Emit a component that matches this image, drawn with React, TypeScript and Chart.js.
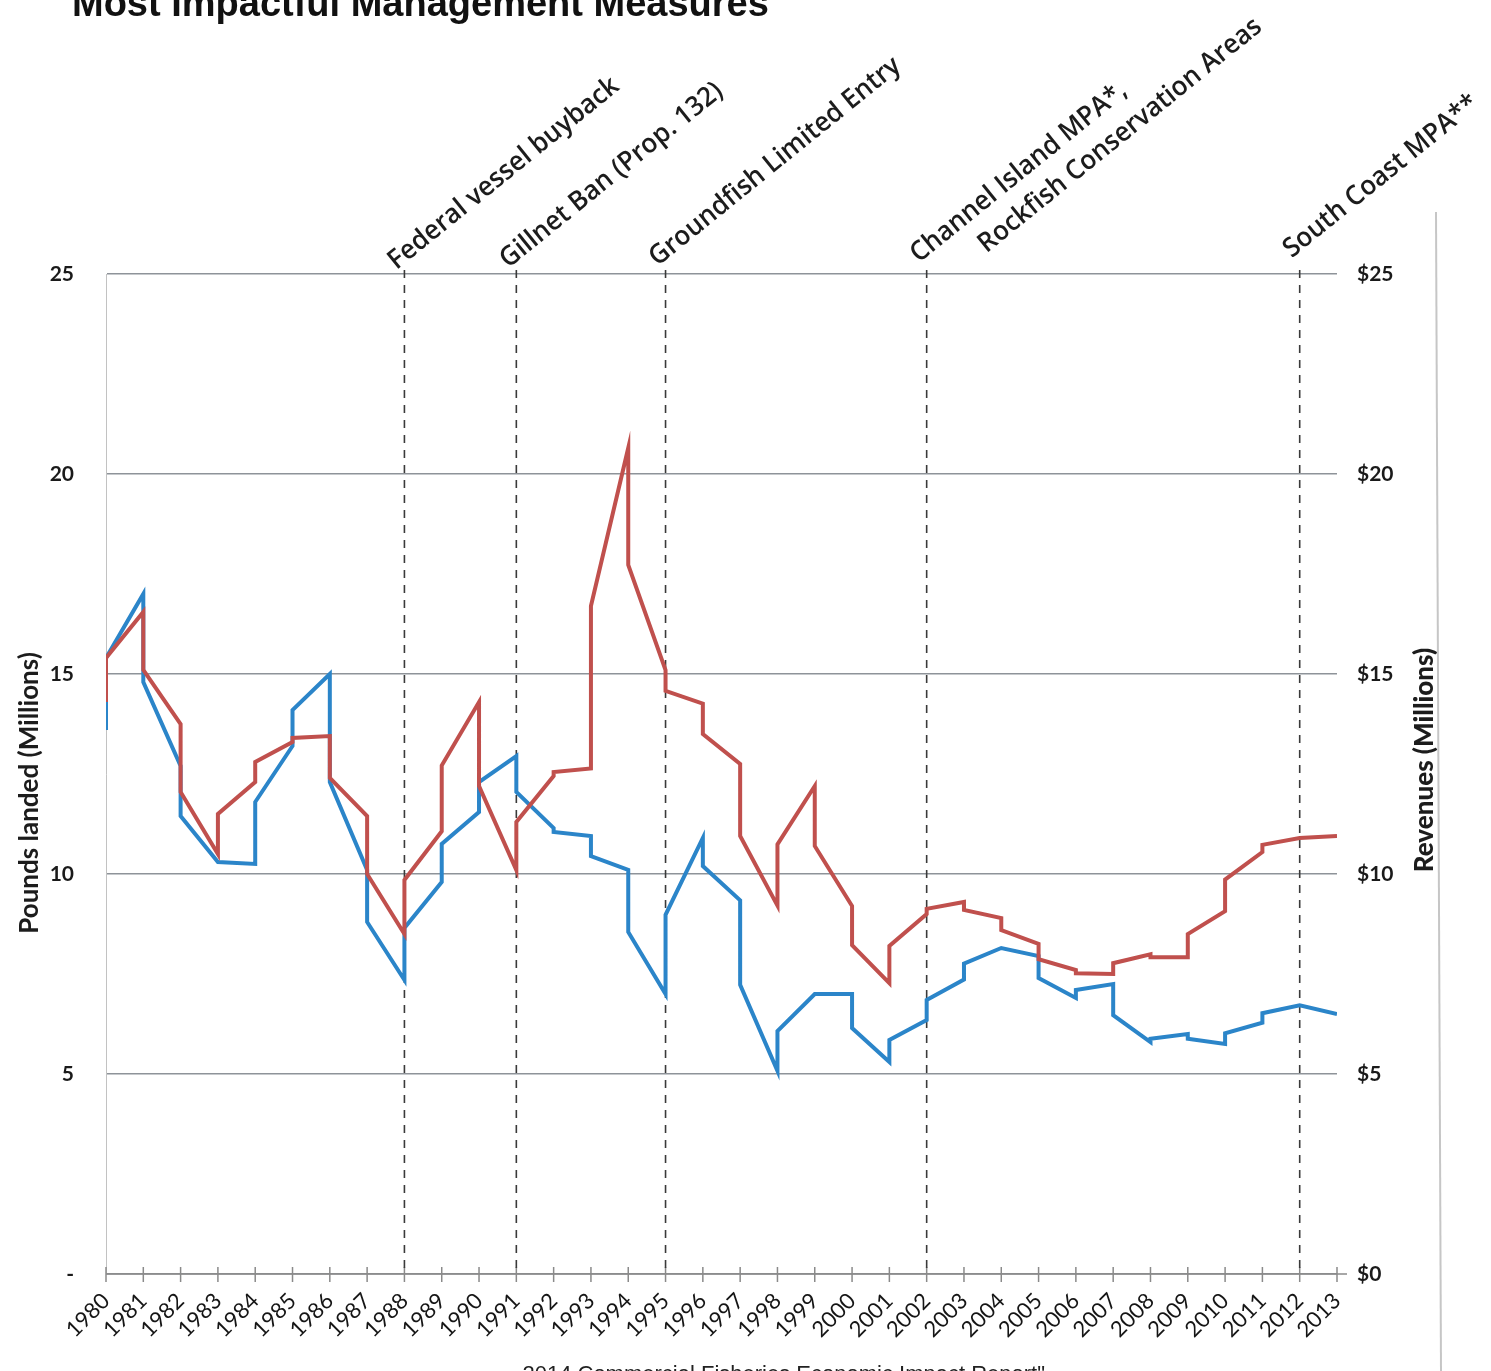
import React, { useEffect, useRef } from "react";
import { Chart, registerables } from "chart.js";

Chart.register(...registerables);

// ---- Data ----
const YEARS = [
  1980, 1981, 1982, 1983, 1984, 1985, 1986, 1987, 1988, 1989, 1990, 1991,
  1992, 1993, 1994, 1995, 1996, 1997, 1998, 1999, 2000, 2001, 2002, 2003,
  2004, 2005, 2006, 2007, 2008, 2009, 2010, 2011, 2012, 2013,
];

// Pounds landed (millions): value where the line arrives at each year, and where it leaves it
const POUNDS_ARRIVE = [
  13.6, 17.0, 12.7, 10.3, 10.25, 13.2, 15.0, 10.1, 7.35, 9.8, 11.55, 12.95,
  11.15, 10.95, 10.1, 7.0, 10.9, 9.34, 5.08, 7.0, 7.0, 5.3, 6.35, 7.36,
  8.15, 7.95, 6.9, 7.25, 5.8, 6.0, 5.75, 6.28, 6.72, 6.5,
];
const POUNDS_DEPART = [
  15.4, 14.8, 11.45, 10.3, 11.8, 14.1, 12.3, 8.8, 8.65, 10.75, 12.3, 12.05,
  11.05, 10.45, 8.55, 8.98, 10.2, 7.23, 6.07, 7.0, 6.15, 5.85, 6.85, 7.76,
  8.15, 7.4, 7.1, 6.47, 5.88, 5.88, 6.02, 6.52, 6.72, 6.5,
];

// Revenues ($ millions)
const REVENUE_ARRIVE = [
  14.3, 16.55, 13.75, 10.5, 12.3, 13.3, 13.45, 11.45, 8.5, 11.07, 14.3, 10.1,
  12.45, 12.64, 20.65, 15.1, 14.26, 12.75, 9.21, 12.2, 9.2, 7.27, 9.0, 9.3,
  8.9, 8.25, 7.6, 7.5, 7.99, 7.92, 9.07, 10.55, 10.9, 10.95,
];
const REVENUE_DEPART = [
  15.4, 15.1, 12.05, 11.5, 12.8, 13.4, 12.4, 10.0, 9.85, 12.71, 12.2, 11.3,
  12.55, 16.7, 17.73, 14.58, 13.5, 10.95, 10.74, 10.7, 8.22, 8.2, 9.13, 9.1,
  8.6, 7.87, 7.52, 7.77, 7.92, 8.5, 9.86, 10.73, 10.9, 10.95,
];

const Y_MIN = 0;
const Y_MAX = 25;
const Y_STEP = 5;

const EVENT_YEARS = [1988, 1991, 1995, 2002, 2012];
const EVENT_LABELS = [
  ["Federal vessel buyback"],
  ["Gillnet Ban (Prop. 132)"],
  ["Groundfish Limited Entry"],
  ["Channel Island MPA*,", "Rockfish Conservation Areas"],
  ["South Coast MPA**"],
];

const TITLE = "Most Impactful Management Measures";
const FOOTER = "2014 Commercial Fisheries Economic Impact Report\"";
const LEFT_TITLE = "Pounds landed (Millions)";
const RIGHT_TITLE = "Revenues (Millions)";

// ---- Styles ----
const BLUE = "#2b85c9";
const RED = "#c0504d";
const GRID = "#8e9399";
const TEXT = "#1c1c1c";

function buildSeries(arrive: number[], depart: number[]) {
  const out: { x: number; y: number }[] = [];
  YEARS.forEach((yr, i) => {
    out.push({ x: yr, y: arrive[i] });
    out.push({ x: yr, y: depart[i] });
  });
  return out;
}

const overlayPlugin = {
  id: "overlay",
  beforeDatasetsDraw(chart: any) {
    const { ctx, chartArea, scales } = chart;
    const xs = scales.x;
    ctx.save();
    // x-axis baseline
    ctx.strokeStyle = "#8a8a8a";
    ctx.lineWidth = 1.5;
    ctx.beginPath();
    ctx.moveTo(chartArea.left, chartArea.bottom);
    ctx.lineTo(chartArea.right + 10, chartArea.bottom);
    ctx.stroke();
    // tick marks crossing the axis
    YEARS.forEach((yr) => {
      const x = xs.getPixelForValue(yr);
      ctx.beginPath();
      ctx.moveTo(x, chartArea.bottom - 7);
      ctx.lineTo(x, chartArea.bottom + 8);
      ctx.stroke();
    });
    // dashed event lines
    ctx.strokeStyle = "#3a3a3a";
    ctx.lineWidth = 1.6;
    ctx.setLineDash([8, 7]);
    EVENT_YEARS.forEach((yr) => {
      const x = xs.getPixelForValue(yr);
      ctx.beginPath();
      ctx.moveTo(x, chartArea.top - 4);
      ctx.lineTo(x, chartArea.bottom);
      ctx.stroke();
    });
    ctx.restore();
  },
  afterDraw(chart: any) {
    const { ctx, scales } = chart;
    const xs = scales.x;
    ctx.save();
    ctx.fillStyle = TEXT;

    // event annotations (rotated)
    const ang = (-39 * Math.PI) / 180;
    ctx.font = "600 27px 'Open Sans'";
    ctx.textAlign = "left";
    ctx.textBaseline = "alphabetic";
    EVENT_YEARS.forEach((yr, i) => {
      const x0 = xs.getPixelForValue(yr) - 8;
      const y0 = 274 - (x0 - 100) * 0.013;
      EVENT_LABELS[i].forEach((line, j) => {
        ctx.save();
        ctx.translate(x0, y0);
        ctx.rotate(ang);
        ctx.translate(j * 59, j * 35);
        ctx.scale(0.96, 1);
        ctx.fillText(line, 0, 0);
        ctx.restore();
      });
    });

    // axis titles
    ctx.font = "bold 26px Lato";
    ctx.textAlign = "center";
    ctx.textBaseline = "middle";
    ctx.save();
    ctx.translate(30, 793);
    ctx.rotate(-Math.PI / 2);
    ctx.fillText(LEFT_TITLE, 0, 0);
    ctx.restore();
    ctx.font = "900 26px Lato";
    ctx.save();
    ctx.translate(1425, 760);
    ctx.rotate(-Math.PI / 2);
    ctx.fillText(RIGHT_TITLE, 0, 0);
    ctx.restore();

    // clipped title at top
    ctx.font = "bold 38px 'Liberation Sans'";
    ctx.textAlign = "left";
    ctx.textBaseline = "alphabetic";
    ctx.fillStyle = "#111";
    ctx.fillText(TITLE, 72, 16);

    // clipped footer at bottom
    ctx.font = "22px 'Liberation Sans'";
    ctx.textAlign = "right";
    ctx.fillStyle = "#222";
    ctx.fillText(FOOTER, 1045, 1381);

    // scanned page edge on the right
    ctx.strokeStyle = "#c6c6c6";
    ctx.lineWidth = 2;
    ctx.beginPath();
    ctx.moveTo(1436, 212);
    ctx.lineTo(1441, 1371);
    ctx.stroke();
    ctx.restore();
  },
};

export default function App() {
  const canvasRef = useRef<HTMLCanvasElement | null>(null);

  useEffect(() => {
    const canvas = canvasRef.current;
    if (!canvas) return;
    const chart = new Chart(canvas, {
      type: "line",
      data: {
        datasets: [
          {
            label: "Revenues (Millions)",
            data: buildSeries(REVENUE_ARRIVE, REVENUE_DEPART),
            borderColor: RED,
            backgroundColor: RED,
            borderWidth: 4,
            pointRadius: 0,
            tension: 0,
            yAxisID: "y1",
          },
          {
            label: "Pounds landed (Millions)",
            data: buildSeries(POUNDS_ARRIVE, POUNDS_DEPART),
            borderColor: BLUE,
            backgroundColor: BLUE,
            borderWidth: 4,
            pointRadius: 0,
            tension: 0,
            yAxisID: "y",
          },
        ],
      },
      options: {
        responsive: false,
        devicePixelRatio: 1,
        animation: false,
        layout: { padding: { top: 274, left: 0, right: 0, bottom: 0 } },
        plugins: {
          legend: { display: false },
          tooltip: { enabled: false },
          title: { display: false },
        },
        scales: {
          x: {
            type: "linear",
            min: YEARS[0],
            max: YEARS[YEARS.length - 1],
            afterFit: (s: any) => {
              s.height = 97;
            },
            grid: { display: false, drawTicks: false },
            border: { display: false },
            ticks: {
              stepSize: 1,
              autoSkip: false,
              maxRotation: 45,
              minRotation: 45,
              padding: 14,
              color: "#151515",
              font: { family: "Lato", size: 22 },
              callback: (v: any) => String(v),
            },
          },
          y: {
            position: "left",
            min: Y_MIN,
            max: Y_MAX,
            afterFit: (s: any) => {
              s.width = 106;
            },
            grid: { color: GRID, lineWidth: 1.5, drawTicks: false },
            border: { display: true, color: "#c2c2c2", width: 1 },
            ticks: {
              stepSize: Y_STEP,
              padding: 32,
              color: "#1a1a1a",
              font: { family: "Lato", size: 21, weight: "bold" },
              callback: (v: any) => (v === 0 ? "-" : String(v)),
            },
          },
          y1: {
            position: "right",
            min: Y_MIN,
            max: Y_MAX,
            afterFit: (s: any) => {
              s.width = 154;
            },
            grid: { display: false, drawTicks: false },
            border: { display: false },
            ticks: {
              stepSize: Y_STEP,
              padding: 20,
              color: "#1a1a1a",
              font: { family: "Lato", size: 21, weight: "bold" },
              callback: (v: any) => "$" + v,
            },
          },
        },
      },
      plugins: [overlayPlugin],
    });
    return () => chart.destroy();
  }, []);

  return (
    <div
      style={{
        position: "absolute",
        left: 0,
        top: 0,
        width: 1491,
        height: 1371,
        overflow: "hidden",
        background: "#ffffff",
      }}
    >
      <canvas
        ref={canvasRef}
        width={1491}
        height={1371}
        style={{ display: "block", width: 1491, height: 1371 }}
      />
    </div>
  );
}
